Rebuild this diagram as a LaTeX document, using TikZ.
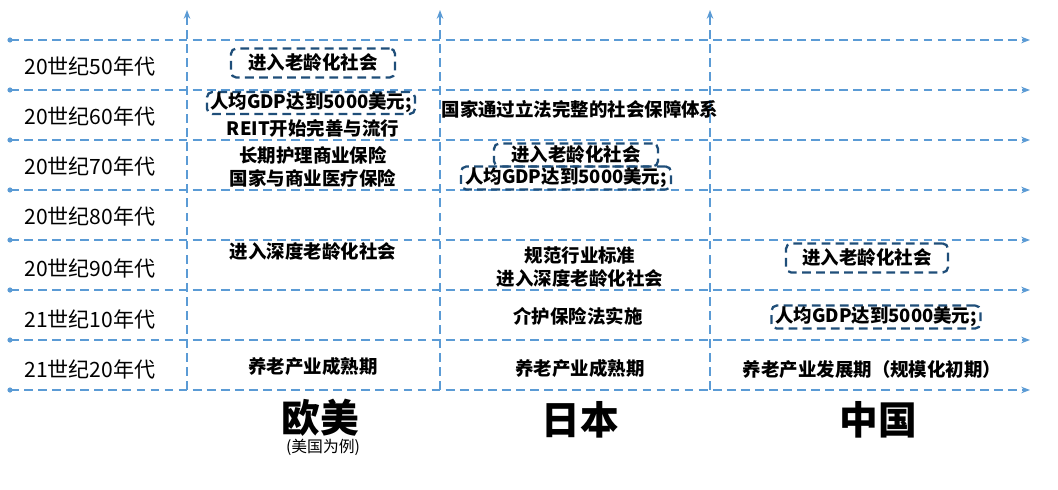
\documentclass[tikz,border=0pt]{standalone}
\usepackage{fontspec}
\setmainfont{Noto Sans CJK SC}
\usepackage{tikz}
\usetikzlibrary{arrows.meta}
\definecolor{gridblue}{RGB}{91,155,213}
\definecolor{boxblue}{RGB}{31,78,121}
\tikzset{
  gridline/.style={gridblue, dashed, line width=1.2pt, dash pattern=on 5pt off 3pt, -{Stealth[length=5pt]}},
  decade/.style={font=\fontsize{12}{14}\selectfont},
  cell/.style={font=\bfseries\fontsize{10.5}{13}\selectfont, align=center},
  evbox/.style={cell, draw=boxblue, dashed, dash pattern=on 5pt off 3pt, line width=1.3pt, rounded corners=3pt, inner sep=0pt},
  region/.style={font=\bfseries\fontsize{22}{24}\selectfont}
}
\begin{document}
\begin{tikzpicture}[x=0.02cm, y=-0.02cm]
            \useasboundingbox (0,0) rectangle (1058,490);

            % grid
            \foreach \y in {40,90,...,390} {
              \fill [gridblue] (10,\y) circle (2.6);
              \draw [gridline] (10,\y) -- (1030,\y);
            }
            \foreach \x in {187,440,710}
              \draw [gridline] (\x,390) -- (\x,10);

            % decades
            \node [decade] (d50) at (90,66) {20世纪50年代};
            \node [decade] (d60) at (90,116) {20世纪60年代};
            \node [decade] (d70) at (90,166) {20世纪70年代};
            \node [decade] (d80) at (90,216) {20世纪80年代};
            \node [decade] (d90) at (90,268) {20世纪90年代};
            \node [decade] (d10) at (90,319) {21世纪10年代};
            \node [decade] (d20) at (90,369) {21世纪20年代};

            % Europe and America
            \node [evbox, minimum width=164*0.02cm, minimum height=29*0.02cm] (eu50) at (313,63) {进入老龄化社会};
            \node [evbox, minimum width=208*0.02cm, minimum height=22*0.02cm] (eu60a) at (311,103) {人均GDP达到5000美元;};
            \node [cell] (eu60b) at (313,128) {REIT开始完善与流行};
            \node [cell] (eu70) at (313,167) {长期护理商业保险\\国家与商业医疗保险};
            \node [cell] (eu90) at (313,252) {进入深度老龄化社会};
            \node [cell] (eu20) at (313,366) {养老产业成熟期};

            % Japan
            \node [cell] (jp60) at (580,109) {国家通过立法完整的社会保障体系};
            \node [evbox, minimum width=164*0.02cm, minimum height=23*0.02cm] (jp70a) at (576,155) {进入老龄化社会};
            \node [evbox, minimum width=210*0.02cm, minimum height=23*0.02cm] (jp70b) at (566,178) {人均GDP达到5000美元;};
            \node [cell] (jp90) at (580,267) {规范行业标准\\进入深度老龄化社会};
            \node [cell] (jp10) at (578,316) {介护保险法实施};
            \node [cell] (jp20) at (580,368) {养老产业成熟期};

            % China
            \node [evbox, minimum width=162*0.02cm, minimum height=29*0.02cm] (cn90) at (867,258) {进入老龄化社会};
            \node [evbox, minimum width=209*0.02cm, minimum height=23*0.02cm] (cn10) at (876,317) {人均GDP达到5000美元;};
            \node [cell] (cn20) at (872,370) {养老产业发展期（规模化初期）};

            % regions
            \node [region] (eu) at (320,418) {欧美};
            \node [font=\fontsize{9}{11}\selectfont] (eunote) at (323,447) {(美国为例)};
            \node [region] (jp) at (580,420) {日本};
            \node [region] (cn) at (878,420) {中国};
        \end{tikzpicture}
\end{document}
